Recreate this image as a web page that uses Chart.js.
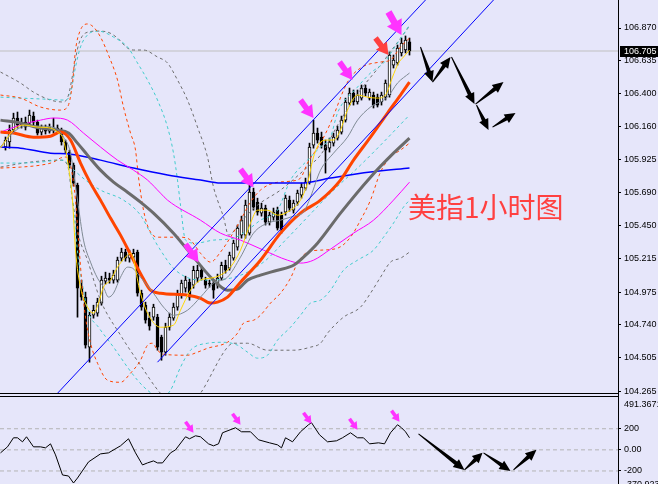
<!DOCTYPE html>
<html><head><meta charset="utf-8">
<script src="https://cdn.jsdelivr.net/npm/chart.js@4.4.0/dist/chart.umd.min.js"></script>
<style>
html,body{margin:0;padding:0;background:#e6e6fa;width:658px;height:484px;overflow:hidden;position:relative;}
#main{position:absolute;left:0;top:0;}
#sub{position:absolute;left:0;top:398px;}
.hl{position:absolute;left:0;width:619px;height:1px;background:#000;}
.vl{position:absolute;left:618px;top:393px;width:1px;height:6px;background:#000;}
#title{position:absolute;left:408px;top:192px;font-family:"Noto Sans CJK SC";font-size:28px;color:#ff4040;white-space:nowrap;line-height:1;}
</style></head><body>
<canvas id="main" width="658" height="398"></canvas>
<div class="hl" style="top:393px"></div>
<div class="hl" style="top:396px"></div>
<div class="vl"></div>
<canvas id="sub" width="658" height="91"></canvas>
<div id="title">美指1小时图</div>
<script>
// ---------- data ----------
const open  = [106.016,106.052,106.138,106.223,106.174,106.195,106.188,106.238,106.195,106.123,106.152,106.130,106.152,106.138,106.138,106.052,105.980,105.886,105.743,105.003,104.939,104.580,104.809,104.824,104.896,105.053,105.075,105.061,105.061,105.218,105.262,105.218,105.226,105.262,104.967,104.881,104.788,104.795,104.795,104.652,104.544,104.723,104.788,104.867,104.953,105.003,105.046,105.025,105.075,105.132,105.061,105.039,105.039,105.025,105.075,105.168,105.147,105.218,105.297,105.384,105.384,105.398,105.692,105.621,105.542,105.578,105.477,105.513,105.563,105.527,105.549,105.635,105.563,105.621,105.671,105.721,105.764,106.030,106.116,106.087,106.030,106.008,106.044,106.080,106.123,106.209,106.331,106.403,106.339,106.367,106.439,106.367,106.389,106.374,106.339,106.374,106.389,106.604,106.619,106.691,106.712,106.770];
const close = [106.066,106.138,106.223,106.174,106.195,106.159,106.245,106.195,106.116,106.152,106.130,106.159,106.138,106.152,106.052,105.994,105.886,105.757,105.003,104.939,104.594,104.809,104.845,104.903,105.061,105.075,105.061,105.097,105.204,105.262,105.218,105.247,105.254,104.967,104.867,104.773,104.730,104.867,104.580,104.544,104.723,104.795,104.867,104.967,105.039,105.061,104.939,105.132,105.132,105.082,105.025,105.032,104.989,105.075,105.168,105.132,105.240,105.326,105.434,105.491,105.599,105.692,105.585,105.549,105.578,105.477,105.527,105.549,105.434,105.420,105.649,105.578,105.613,105.685,105.728,105.764,106.016,106.116,106.066,106.030,105.994,106.052,106.087,106.138,106.209,106.339,106.403,106.339,106.389,106.439,106.403,106.410,106.317,106.317,106.389,106.475,106.676,106.640,106.726,106.762,106.784,106.705];
const high  = [106.088,106.174,106.259,106.267,106.223,106.231,106.281,106.267,106.209,106.174,106.174,106.181,106.223,106.174,106.152,106.066,105.994,105.901,105.757,105.061,104.975,104.831,104.881,104.931,105.089,105.118,105.111,105.132,105.226,105.290,105.283,105.276,105.283,105.276,104.989,104.903,104.831,104.888,104.816,104.666,104.752,104.824,104.896,104.989,105.061,105.089,105.068,105.161,105.168,105.161,105.082,105.061,105.061,105.104,105.190,105.204,105.262,105.348,105.456,105.520,105.635,105.743,105.721,105.649,105.613,105.599,105.549,105.578,105.585,105.549,105.671,105.664,105.635,105.707,105.757,105.793,106.044,106.209,106.152,106.123,106.066,106.080,106.116,106.166,106.238,106.367,106.439,106.425,106.425,106.461,106.461,106.432,106.410,106.396,106.410,106.497,106.698,106.676,106.748,106.798,106.813,106.798];
const low   = [105.994,106.008,106.116,106.152,106.152,106.138,106.166,106.174,106.102,106.102,106.109,106.116,106.116,106.116,106.030,105.972,105.865,105.736,104.795,104.917,104.573,104.472,104.788,104.802,104.881,105.032,105.039,105.039,105.046,105.197,105.197,105.190,105.204,104.946,104.845,104.752,104.702,104.773,104.558,104.486,104.522,104.702,104.773,104.845,104.931,104.975,104.917,105.003,105.046,105.061,105.003,105.010,104.931,105.003,105.061,105.111,105.132,105.204,105.276,105.362,105.362,105.384,105.563,105.527,105.520,105.456,105.456,105.491,105.420,105.398,105.527,105.556,105.542,105.599,105.649,105.707,105.750,106.008,106.044,106.008,105.829,105.980,106.023,106.066,106.109,106.195,106.317,106.317,106.324,106.353,106.382,106.353,106.296,106.303,106.317,106.353,106.374,106.583,106.604,106.669,106.691,106.676];

// indicator lines: [bar index, price]
const maFast = [[-1.25,106.008],[2,106.138],[4.5,106.174],[8,106.159],[11.25,106.152],[13,106.123],[14.5,106.066],[15.75,105.872],[16.75,105.635],[17.5,105.276],[18.75,105.010],[20.5,104.867],[22,104.824],[23.25,104.896],[24.5,105.010],[26.25,105.061],[28,105.154],[30,105.226],[31.25,105.254],[33.75,104.967],[35.5,104.824],[38.75,104.723],[42,104.738],[43.75,104.845],[46.25,104.989],[48.75,105.061],[51.25,105.075],[53.75,105.097],[56.25,105.154],[58.75,105.276],[61.25,105.470],[63,105.563],[65.5,105.563],[68,105.527],[71.25,105.563],[73.75,105.635],[75.5,105.757],[77,105.944],[78.75,106.052],[80.5,106.066],[82,106.066],[83.75,106.138],[85.5,106.281],[88,106.389],[90.5,106.374],[93,106.367],[95,106.389],[96.75,106.518],[98.25,106.619],[99.5,106.662],[101,106.712]];
const maMid = [[-1.25,106.016],[1.25,106.102],[5,106.166],[8.75,106.166],[12.5,106.152],[14.5,106.087],[16.25,105.972],[18,105.635],[19.5,105.348],[21.25,105.190],[23,105.075],[24.5,105.010],[25.75,104.939],[27,104.967],[28.75,105.082],[30.5,105.154],[31.75,105.147],[33.75,105.082],[37,104.967],[39.5,104.867],[42,104.809],[45.5,104.845],[48.75,104.939],[52,105.039],[55.5,105.082],[58.75,105.226],[62,105.398],[65.5,105.470],[68.75,105.491],[72,105.520],[74.5,105.549],[76.25,105.657],[78.75,105.850],[82,105.972],[85.5,106.087],[88,106.209],[91.25,106.303],[95.5,106.374],[98,106.475],[101,106.547]];
const maOrange = [[-1.25,106.123],[2,106.116],[7,106.087],[11.25,106.094],[13.75,106.123],[16.25,106.066],[18.75,105.901],[21.25,105.757],[23.75,105.635],[26.25,105.506],[28.75,105.384],[32,105.204],[34.25,105.082],[36.25,104.989],[38.75,104.967],[45.5,104.953],[48.75,104.931],[51.25,104.896],[53,104.903],[55.5,104.939],[58.75,105.046],[63.75,105.204],[68.75,105.398],[73.75,105.542],[78.75,105.635],[83.75,105.779],[87,105.922],[91.25,106.087],[95.5,106.260],[98.75,106.389],[101,106.482]];
const maGray = [[-1.25,106.209],[3.75,106.188],[8.75,106.152],[13,106.138],[15.75,106.116],[18,106.044],[20.5,105.958],[23.75,105.850],[27,105.764],[30.5,105.692],[33.75,105.621],[37,105.542],[42,105.398],[47,105.226],[52,105.061],[55.5,104.989],[58,104.996],[60.5,105.061],[63.75,105.097],[68,105.132],[72,105.168],[74.5,105.226],[78,105.326],[83.75,105.542],[91.25,105.800],[97,105.972],[101,106.080]];
const maMagenta = [[-1.25,106.123],[3.75,106.174],[8.75,106.209],[12,106.224],[15.5,106.209],[19.5,106.116],[23.75,106.016],[28,105.922],[32,105.850],[35.5,105.779],[38.75,105.685],[40.5,105.635],[48.75,105.491],[53.75,105.398],[58.75,105.348],[64.5,105.276],[70.5,105.204],[73.75,105.183],[77,105.204],[81.25,105.283],[87,105.398],[92,105.491],[97,105.635],[101,105.764]];
const maBlue = [[-1.25,106.016],[3.75,106.008],[11.25,105.972],[16.25,105.965],[23.75,105.922],[32,105.865],[40.5,105.815],[48.75,105.779],[53.75,105.757],[65.5,105.757],[73.75,105.757],[81.25,105.793],[91.25,105.836],[101,105.865]];
const bandOrangeUp = [[-1.25,106.389],[3.75,106.367],[8.75,106.303],[13.75,106.281],[15.5,106.303],[16.75,106.475],[17.5,106.712],[18.75,106.856],[20.5,106.899],[22,106.877],[23.75,106.805],[26.25,106.640],[28,106.497],[29.5,106.303],[31.25,106.116],[32.5,105.994],[33.25,105.800],[34.5,105.563],[35.75,105.434],[38,105.369],[43.75,105.369],[46.25,105.348],[48.75,105.254],[51.25,105.190],[53.75,105.262],[56.25,105.369],[58.75,105.491],[61.25,105.621],[63.75,105.707],[67,105.757],[71.25,105.771],[73.75,105.793],[75.5,105.901],[78.75,106.044],[81.25,106.188],[85.5,106.482],[88.75,106.583],[93.75,106.626],[96.25,106.640],[98.75,106.734],[101,106.798]];
const bandOrangeLow = [[-1.25,105.865],[3.75,105.872],[8.75,105.886],[12,105.908],[13.75,105.937],[15,105.944],[16.25,105.886],[17.5,105.635],[18.25,105.348],[19.25,104.989],[20,104.795],[21.25,104.608],[23,104.465],[25.5,104.343],[28.75,104.328],[31.25,104.393],[33.75,104.486],[35.5,104.594],[36.75,104.608],[38,104.558],[39.5,104.529],[45.5,104.522],[48,104.544],[50.5,104.572],[55.5,104.615],[58,104.680],[59.5,104.752],[62,104.773],[63.75,104.809],[66.25,104.896],[68.75,104.967],[71.25,105.075],[73,105.183],[75.5,105.262],[78.75,105.276],[83,105.290],[86.25,105.369],[88.75,105.491],[91.25,105.635],[93.75,105.836],[96.25,105.944],[98.75,105.994],[101,106.044]];
const bandCyanUp = [[-1.25,106.374],[3.75,106.367],[9.5,106.360],[15,106.353],[16.25,106.403],[17.5,106.590],[18.75,106.734],[20.5,106.820],[23,106.848],[24.5,106.841],[27,106.805],[30.5,106.734],[33,106.619],[35.5,106.497],[38,106.353],[40.5,106.159],[42,105.972],[43,105.779],[43.75,105.599],[45,105.348],[47.5,105.326],[52,105.348],[57,105.362],[60.5,105.420],[63.75,105.491],[68,105.563],[71.25,105.779],[75.5,105.922],[78.75,106.016],[81.25,106.087],[83,106.260],[88,106.446],[91.25,106.547],[94.5,106.619],[98,106.762],[101,106.892]];
const bandCyanMid = [[15.75,105.886],[20,105.779],[23.75,105.707],[29.5,105.635],[33.75,105.527],[36.25,105.398],[38.75,105.276],[42.5,105.132],[48.75,105.061],[56.25,105.075],[64.5,105.190],[70,105.348],[75.5,105.513],[81.25,105.685],[88.75,105.886],[95,106.066],[100.5,106.231]];
const bandCyanLow = [[-1.25,105.901],[3.75,105.901],[8.75,105.908],[13.75,105.922],[15.5,105.901],[16.75,105.635],[18.25,105.204],[19.5,104.989],[20.5,104.845],[23.25,104.723],[27,104.580],[30.5,104.436],[33,104.343],[35.5,104.271],[38.75,104.213],[41.25,104.271],[43.75,104.436],[46.25,104.558],[50.5,104.608],[54.5,104.615],[58,104.594],[60.5,104.544],[63,104.501],[65.5,104.522],[68,104.630],[71.25,104.723],[73.75,104.809],[76.25,104.896],[78.75,104.917],[81.25,104.989],[84.5,105.132],[88,105.204],[92,105.276],[94.5,105.369],[97,105.470],[99.5,105.585],[101,105.635]];
const bandGrayUp = [[-1.25,106.554],[3.75,106.475],[7,106.410],[11.25,106.353],[14.5,106.339],[15.75,106.389],[17,106.568],[18.25,106.748],[20,106.834],[23,106.848],[25.5,106.841],[28,106.798],[30.5,106.726],[32,106.712],[34.5,106.712],[38,106.662],[40.5,106.619],[43,106.497],[45.5,106.353],[48,106.159],[50.5,105.944],[52,105.728],[53,105.635],[54.5,105.513],[55.75,105.384],[58.75,105.477],[63,105.599],[68.75,105.707],[75.5,105.872],[78.75,105.958],[83.75,106.209],[88.75,106.425],[93.75,106.604],[97.5,106.748],[101,106.884]];
const bandGrayLow = [[-1.25,105.872],[6.25,105.908],[13.75,105.922],[15.5,105.886],[16.75,105.635],[18.25,105.384],[20.5,105.204],[23.75,104.917],[28.75,104.666],[33.75,104.450],[38.75,104.249],[42.5,104.163],[46.25,104.163],[48.75,104.249],[55.5,104.580],[57,104.608],[60.5,104.608],[65.5,104.558],[72,104.558],[76.25,104.580],[78.75,104.608],[80.5,104.680],[84.5,104.795],[88.75,104.867],[91.25,104.967],[93.75,105.082],[96.25,105.190],[98.75,105.218],[101,105.262]];
const channelTop = [[13,104.249],[105,107.071]];
const channelBottom = [[38,104.472],[122,107.071]];

// axis ticks and ranges
const priceTicks = [106.870,106.635,106.400,106.160,105.925,105.690,105.450,105.215,104.975,104.740,104.505,104.265];
const priceRange = [104.251, 107.071];
const barRange = [-1.375, 153.125];
const lastPrice = 106.705;

// lower panel (CCI)
const cci = [[-1.25,-28.6],[0.5,28.6],[2,114.3],[3,114.3],[4.25,76.2],[5.25,123.8],[7,28.6],[8.75,28.6],[10,19.0],[11.25,57.1],[12.5,-47.6],[14.25,-238.1],[15.75,-247.6],[17,-314.3],[18,-266.7],[20.75,-114.3],[23.75,-38.1],[25.75,-28.6],[28.75,38.1],[30.75,104.8],[32.5,-28.6],[34.25,-142.9],[35.5,-123.8],[37,-104.8],[38,-123.8],[39.25,-123.8],[41.25,-28.6],[42.5,0],[45,123.8],[46,104.8],[47.5,133.3],[48.75,123.8],[50.75,57.1],[52,38.1],[53.25,57.1],[54.25,161.9],[57.5,209.5],[59,171.4],[61.25,171.4],[63.25,95.2],[66,66.7],[68,47.6],[69,19.0],[70,114.3],[71.75,76.2],[73.75,171.4],[75.75,238.1],[76.5,257.1],[78.5,142.9],[80.5,76.2],[82.75,85.7],[84.25,114.3],[86.25,161.9],[88,114.3],[89.5,114.3],[91,57.1],[93.25,66.7],[94.75,57.1],[96.25,161.9],[98,238.1],[99,209.5],[100,171.4],[101,114.3]];
const cciTicks = [200, 0, -200];
const cciTickLabels = ['200', '0.00', '-200'];
const cciRange = [-370.923, 491.3671];
const cciRangeLabels = ['491.3671', '-370.923'];

// annotations: [fromIndex, fromValue, toIndex, toValue]
const pinkArrowsMain = [[45,105.319,48.25,105.190],[58.75,105.857,62,105.728],[73.75,106.353,77,106.224],[83.5,106.626,86.75,106.497],[95.75,106.985,99,106.820]];
const redArrowsMain = [[92.5,106.798,95.75,106.676]];
const blackArrowsMain = [[103.75,106.734,106.75,106.482],[106.75,106.482,111.25,106.662],[111.5,106.662,117.25,106.324],[117.5,106.324,124.5,106.482],[117.75,106.317,120.75,106.138],[121.75,106.159,127.5,106.260]];
const pinkArrowsSub = [[45,266.7,47,161.9],[56.75,342.9,58.75,238.1],[74.5,352.4,76.5,247.6],[86,295.3,88,190.5],[96.5,371.5,98.5,266.7]];
const blackArrowsSub = [[103.25,152.4,114.75,-190.5],[114.75,-190.5,119.25,-28.6],[119.5,-28.6,126.25,-200],[127,-190.5,132.75,0]];

// ---------- helpers ----------
const xy = a => a.map(p => ({x: p[0], y: p[1]}));
const FONT = {family: 'Liberation Sans', size: 9};
function lineDs(data, color, width, order, dash) {
  return {type: 'line', data: xy(data), borderColor: color, borderWidth: width, pointRadius: 0,
    cubicInterpolationMode: 'monotone', borderDash: dash || [], order: order, fill: false};
}
function arrowShape(ctx, x0, y0, x1, y1, color, headLen, headHalf, s0, s1) {
  const dx = x1 - x0, dy = y1 - y0, L = Math.hypot(dx, dy), ux = dx / L, uy = dy / L, nx = -uy, ny = ux;
  const bx = x1 - ux * headLen, by = y1 - uy * headLen;
  ctx.beginPath();
  ctx.moveTo(x0 + nx * s0, y0 + ny * s0);
  ctx.lineTo(bx + nx * s1, by + ny * s1);
  ctx.lineTo(bx + nx * headHalf, by + ny * headHalf);
  ctx.lineTo(x1, y1);
  ctx.lineTo(bx - nx * headHalf, by - ny * headHalf);
  ctx.lineTo(bx - nx * s1, by - ny * s1);
  ctx.lineTo(x0 - nx * s0, y0 - ny * s0);
  ctx.closePath();
  ctx.fillStyle = color;
  ctx.fill();
}
function drawArrows(chart, list, kind, color) {
  const ctx = chart.ctx, xs = chart.scales.x, ys = chart.scales.y;
  list.forEach(a => {
    const x0 = xs.getPixelForValue(a[0]), y0 = ys.getPixelForValue(a[1]);
    const x1 = xs.getPixelForValue(a[2]), y1 = ys.getPixelForValue(a[3]);
    const L = Math.hypot(x1 - x0, y1 - y0);
    if (kind === 'fat') arrowShape(ctx, x0, y0, x1, y1, color, L * 0.55, L * 0.32, L * 0.13, L * 0.13);
    else arrowShape(ctx, x0, y0, x1, y1, color, Math.min(11, L * 0.4), 5, 0.5, 2);
  });
}
const xScale = {type: 'linear', min: barRange[0], max: barRange[1], display: false, offset: false, grid: {offset: false}};

// ---------- main chart ----------
const idx = open.map((_, i) => i);
new Chart(document.getElementById('main'), {
  type: 'bar',
  data: {
    datasets: [
      {type: 'bar', data: idx.map(i => ({x: i, y: [low[i], high[i]]})), backgroundColor: '#000', barThickness: 1, grouped: false, order: 100},
      {type: 'bar', data: idx.map(i => ({x: i, y: [open[i], close[i]]})),
        backgroundColor: idx.map(i => close[i] >= open[i] ? '#ffffff' : '#000000'),
        borderColor: '#000', borderWidth: 1, borderSkipped: false, barThickness: 3, grouped: false, order: 99},
      lineDs([[barRange[0], lastPrice], [barRange[1], lastPrice]], '#c0c0c0', 1, 110),
      lineDs(bandGrayUp, '#6e6e6e', 1, 60, [3, 3]),
      lineDs(bandGrayLow, '#6e6e6e', 1, 60, [3, 3]),
      lineDs(bandCyanUp, '#40cccc', 1, 58, [3, 3]),
      lineDs(bandCyanMid, '#40cccc', 1, 58, [3, 3]),
      lineDs(bandCyanLow, '#40cccc', 1, 58, [3, 3]),
      lineDs(bandOrangeUp, '#ff4500', 1, 56, [3, 3]),
      lineDs(bandOrangeLow, '#ff4500', 1, 56, [3, 3]),
      lineDs(maBlue, '#0000ff', 1.5, 40),
      lineDs(maMagenta, '#ff00ff', 1, 35),
      lineDs(maGray, '#6b6b6b', 3, 30),
      lineDs(maOrange, '#ff4500', 3, 25),
      lineDs(maMid, '#7f8a94', 1, 20),
      lineDs(maFast, '#ffd700', 1, 15),
      {type: 'line', data: xy(channelTop), borderColor: '#0000ff', borderWidth: 1, pointRadius: 0, order: 5},
      {type: 'line', data: xy(channelBottom), borderColor: '#0000ff', borderWidth: 1, pointRadius: 0, order: 5}
    ]
  },
  options: {
    responsive: false, animation: false, devicePixelRatio: 1,
    layout: {padding: {bottom: 5}},
    plugins: {legend: {display: false}, tooltip: {enabled: false}},
    scales: {
      x: xScale,
      y: {
        type: 'linear', position: 'right', min: priceRange[0], max: priceRange[1],
        afterBuildTicks: s => { s.ticks = priceTicks.map(v => ({value: v})); },
        afterFit: s => { s.width = 40; s.paddingTop = 0; s.paddingBottom = 0; },
        grid: {drawOnChartArea: false, tickLength: 3, color: '#000'},
        border: {color: '#000'},
        ticks: {font: FONT, color: '#000', padding: 3, autoSkip: false, callback: v => v.toFixed(3)}
      }
    }
  },
  plugins: [{
    id: 'extras',
    afterDraw(chart) {
      drawArrows(chart, pinkArrowsMain, 'fat', '#ff33ff');
      drawArrows(chart, redArrowsMain, 'fat', '#ff4040');
      drawArrows(chart, blackArrowsMain, 'thin', '#000');
      const ctx = chart.ctx, y = Math.round(chart.scales.y.getPixelForValue(lastPrice));
      ctx.fillStyle = '#000';
      ctx.fillRect(620, y - 5, 38, 11);
      ctx.fillStyle = '#fff';
      ctx.font = '9px "Liberation Sans"';
      ctx.textBaseline = 'middle';
      ctx.textAlign = 'left';
      ctx.fillText(lastPrice.toFixed(3), 624, y + 0.5);
    }
  }]
});

// ---------- lower chart ----------
new Chart(document.getElementById('sub'), {
  type: 'line',
  data: {
    datasets: [
      ...cciTicks.map(v => lineDs([[barRange[0], v], [barRange[1], v]], '#b4b4b4', 1, 50, [4, 3])),
      {type: 'line', data: xy(cci), borderColor: '#000', borderWidth: 1, pointRadius: 0, tension: 0, order: 10}
    ]
  },
  options: {
    responsive: false, animation: false, devicePixelRatio: 1,
    layout: {padding: 0},
    plugins: {legend: {display: false}, tooltip: {enabled: false}},
    scales: {
      x: xScale,
      y: {
        type: 'linear', position: 'right', min: cciRange[0], max: cciRange[1],
        afterBuildTicks: s => { s.ticks = cciTicks.map(v => ({value: v})); },
        afterFit: s => { s.width = 40; s.paddingTop = 0; s.paddingBottom = 0; },
        grid: {drawOnChartArea: false, tickLength: 3, color: '#000'},
        border: {color: '#000'},
        ticks: {font: FONT, color: '#000', padding: 3, autoSkip: false, callback: (v, i) => cciTickLabels[i]}
      }
    }
  },
  plugins: [{
    id: 'extrasSub',
    afterDraw(chart) {
      drawArrows(chart, pinkArrowsSub, 'fat', '#ff33ff');
      drawArrows(chart, blackArrowsSub, 'thin', '#000');
      const ctx = chart.ctx;
      ctx.fillStyle = '#000';
      ctx.font = '9px "Liberation Sans"';
      ctx.textAlign = 'left';
      ctx.textBaseline = 'top';
      ctx.fillText(cciRangeLabels[0], 624, 2);
      ctx.fillText(cciRangeLabels[1], 624, 82);
    }
  }]
});
</script>
</body></html>
